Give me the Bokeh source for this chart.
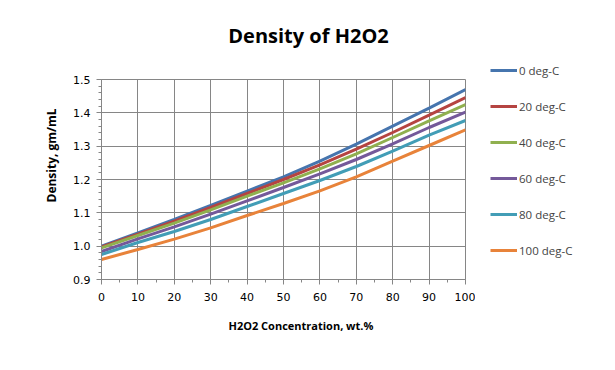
from bokeh.plotting import figure
from bokeh.layouts import row, column
from bokeh.models import Legend, LegendItem, FixedTicker, Range1d, NumeralTickFormatter, Title, Label
from bokeh.embed import file_html
from bokeh.resources import INLINE

# ---- data ----
concentration = [0, 10, 20, 30, 40, 50, 60, 70, 80, 90, 100]
series_names = ["0 deg-C", "20 deg-C", "40 deg-C", "60 deg-C", "80 deg-C", "100 deg-C"]
dens_0 = [1.000, 1.040, 1.080, 1.122, 1.165, 1.208, 1.255, 1.306, 1.360, 1.414, 1.470]
dens_20 = [0.998, 1.036, 1.075, 1.116, 1.158, 1.200, 1.244, 1.291, 1.341, 1.393, 1.446]
dens_40 = [0.995, 1.032, 1.069, 1.109, 1.150, 1.190, 1.232, 1.277, 1.326, 1.376, 1.425]
dens_60 = [0.984, 1.022, 1.058, 1.096, 1.136, 1.176, 1.217, 1.260, 1.307, 1.356, 1.402]
dens_80 = [0.975, 1.011, 1.044, 1.080, 1.119, 1.158, 1.197, 1.239, 1.285, 1.333, 1.377]
dens_100 = [0.960, 0.990, 1.021, 1.055, 1.092, 1.128, 1.166, 1.208, 1.255, 1.302, 1.349]
all_series = [dens_0, dens_20, dens_40, dens_60, dens_80, dens_100]
colors = ["#4675AE", "#B54441", "#90B04F", "#74599A", "#429DB6", "#E8833A"]
x_ticks = [0, 10, 20, 30, 40, 50, 60, 70, 80, 90, 100]
y_ticks = [0.9, 1.0, 1.1, 1.2, 1.3, 1.4, 1.5]
title_text = "Density of H2O2"
x_label = "H2O2 Concentration, wt.%"
y_label = "Density, gm/mL"

H = 354
W_MAIN, W_LEG = 475, 124
H_TITLE = 60
H_MAIN = H - H_TITLE
L, R, T = 101, 10, 19
B = H_MAIN - T - 200

# ---- title strip (its frame spans the same horizontal pixels as the chart frame) ----
pt = figure(width=W_MAIN, height=H_TITLE, output_backend="svg", toolbar_location=None,
            x_range=Range1d(L, W_MAIN - R), y_range=Range1d(0, H_TITLE),
            x_axis_location=None, y_axis_location=None,
            min_border=0, min_border_left=L, min_border_right=R,
            min_border_top=0, min_border_bottom=0)
pt.outline_line_color = None
pt.xgrid.visible = False
pt.ygrid.visible = False
pt.add_layout(Label(x=308, y=25, text=title_text, text_align="center",
                    text_baseline="alphabetic", text_font="Open Sans",
                    text_font_style="bold", text_font_size="20px", text_color="black"))

# ---- main chart ----
p = figure(width=W_MAIN, height=H_MAIN, output_backend="svg", toolbar_location=None,
           x_range=Range1d(0, 100), y_range=Range1d(0.9, 1.5),
           min_border_left=L, min_border_right=R, min_border_top=T, min_border_bottom=B)
p.background_fill_color = "white"
p.border_fill_color = "white"
p.outline_line_color = "#868686"

grid_col = "#868686"
for ax in (p.xaxis, p.yaxis):
    ax.axis_line_color = grid_col
    ax.major_tick_line_color = grid_col
    ax.minor_tick_line_color = grid_col
    ax.major_tick_in = 0
    ax.minor_tick_in = 0
    ax.major_tick_out = 5
    ax.minor_tick_out = 3
    ax.major_label_text_font = "DejaVu Sans"
    ax.major_label_text_font_size = "11px"
    ax.major_label_text_color = "black"
p.xaxis.ticker = FixedTicker(ticks=x_ticks, minor_ticks=list(range(0, 101, 5)))
p.yaxis.ticker = FixedTicker(ticks=y_ticks, minor_ticks=[round(0.9 + 0.02 * i, 2) for i in range(31)])
p.yaxis.formatter = NumeralTickFormatter(format="0.0")
p.xaxis.major_label_standoff = 8
p.yaxis.major_label_standoff = 6
p.xgrid.ticker = FixedTicker(ticks=x_ticks)
p.ygrid.ticker = FixedTicker(ticks=y_ticks)
p.xgrid.grid_line_color = grid_col
p.ygrid.grid_line_color = grid_col

for ys, c in zip(all_series, colors):
    p.line(concentration, ys, line_color=c, line_width=3)

p.add_layout(Title(text=x_label, align="left", offset=127, standoff=25,
                   text_font="Open Sans", text_font_style="bold", text_font_size="11px",
                   text_color="black"), "below")
p.add_layout(Title(text=y_label, align="left", offset=77, standoff=22,
                   text_font="Open Sans", text_font_style="bold", text_font_size="12px",
                   text_color="black"), "left")

# ---- legend panel (same series, drawn outside its visible range so only the legend shows) ----
pl = figure(width=W_LEG, height=H, output_backend="svg", toolbar_location=None,
            x_range=Range1d(1000, 1001), y_range=Range1d(0.9, 1.5),
            x_axis_location=None, y_axis_location=None,
            min_border=0, min_border_left=0, min_border_right=0,
            min_border_top=0, min_border_bottom=0)
pl.outline_line_color = None
pl.xgrid.visible = False
pl.ygrid.visible = False
items = []
for name, ys, c in zip(series_names, all_series, colors):
    r = pl.line(concentration, ys, line_color=c, line_width=3)
    items.append(LegendItem(label=name, renderers=[r]))
legend = Legend(items=items, location=(15, 96), orientation="vertical",
                glyph_width=27, glyph_height=16, label_height=16,
                label_standoff=2, spacing=20, padding=0, margin=0,
                label_text_font="Open Sans", label_text_font_size="11.5px",
                border_line_color=None, background_fill_alpha=0)
pl.add_layout(legend, "center")

layout = row(column(pt, p, spacing=0), pl, spacing=0)
open("out.html", "w").write(file_html(layout, INLINE))
